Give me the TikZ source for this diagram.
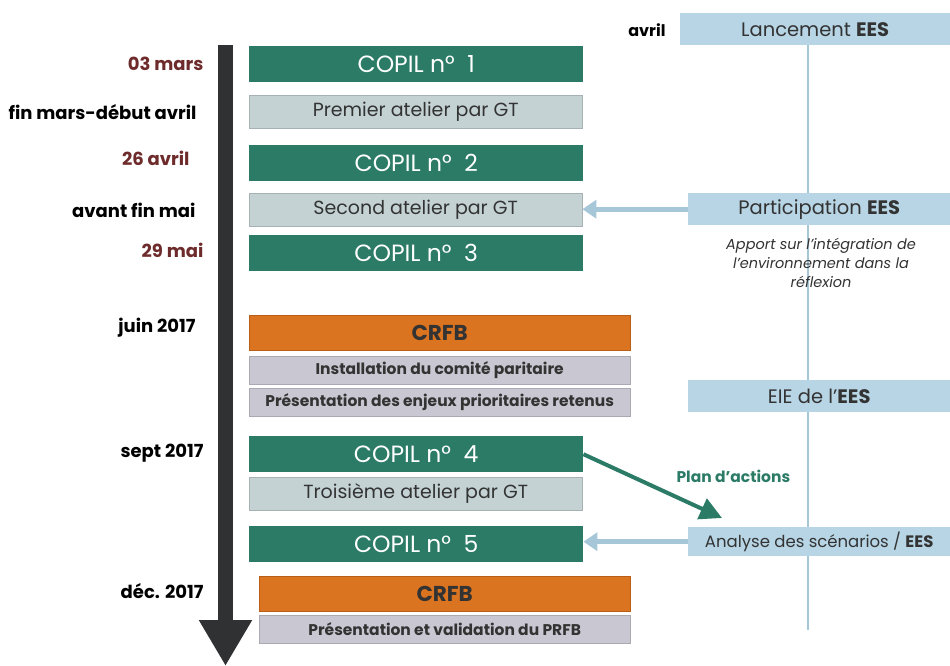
\documentclass[tikz,border=0pt]{standalone}
\usepackage{fontspec}
\setmainfont{Poppins}
\usetikzlibrary{arrows.meta}
\definecolor{copil}{HTML}{2B7B66}
\definecolor{atel}{HTML}{C4D2D4}
\definecolor{crfb}{HTML}{DB7420}
\definecolor{crfbd}{HTML}{B85E16}
\definecolor{lav}{HTML}{C9C7D1}
\definecolor{ees}{HTML}{B7D5E5}
\definecolor{eesarr}{HTML}{A6C7D8}
\definecolor{bar}{HTML}{2F3133}
\definecolor{datered}{HTML}{6E2B2B}
\definecolor{txt}{HTML}{333333}
\tikzset{
  boxbase/.style={inner sep=0pt, anchor=north west},
  copilbox/.style={boxbase, fill=copil, text=white, minimum width=334, minimum height=36, font=\fontsize{23.5}{25}\selectfont},
  atelbox/.style={boxbase, fill=atel, draw=atel!85!black, text=txt, minimum width=333, minimum height=33, font=\fontsize{19}{21}\selectfont},
  crfbbox/.style={boxbase, fill=crfb, draw=crfbd, text=txt, minimum height=35, font=\bfseries\fontsize{21.5}{23}\selectfont},
  lavbox/.style={boxbase, fill=lav, draw=lav!85!black, text=txt, minimum height=28, font=\bfseries\fontsize{15.5}{17}\selectfont},
  eesbox/.style={boxbase, fill=ees, text=txt, minimum width=262, minimum height=32, font=\fontsize{19.5}{21}\selectfont},
  datelbl/.style={anchor=east, font=\bfseries\fontsize{18}{20}\selectfont, text=black},
  datered/.style={datelbl, text=datered},
  eesarrow/.style={draw=eesarr, line width=5, -{Triangle[width=18, length=14]}},
}
\begin{document}
\begin{tikzpicture}[x=1pt, y=-1pt]
\useasboundingbox[fill=white] (0,0) rectangle (950,666);
% timeline
\coordinate (tltop) at (225.5,45);
\coordinate (tlend) at (225.5,666);
\draw[bar, line width=15, -{Triangle[width=50, length=46]}] (tltop) -- (tlend);
% right vertical line
\coordinate (vtop) at (808,45);
\coordinate (vbot) at (808,630);
\draw[eesarr, line width=1.8] (vtop) -- (vbot);
% left boxes
\node[copilbox] (c1) at (249,46) {COPIL n°\ \ 1};
\node[atelbox] (a1) at (249,95) {Premier atelier par GT};
\node[copilbox] (c2) at (249,145) {COPIL n°\ \ 2};
\node[atelbox] (a2) at (249,193) {Second atelier par GT};
\node[copilbox] (c3) at (249,235) {COPIL n°\ \ 3};
\node[crfbbox, minimum width=381] (r1) at (249,315) {CRFB};
\node[lavbox, minimum width=381] (l1) at (249,356) {Installation du comité paritaire};
\node[lavbox, minimum width=381] (l2) at (249,388) {Présentation des enjeux prioritaires retenus};
\node[copilbox] (c4) at (249,436) {COPIL n°\ \ 4};
\node[atelbox] (a3) at (249,477) {Troisième atelier par GT};
\node[copilbox] (c5) at (249,526) {COPIL n°\ \ 5};
\node[crfbbox, minimum width=371] (r2) at (259,576) {CRFB};
\node[lavbox, minimum width=371] (l3) at (259,615) {Présentation et validation du PRFB};
% dates
\node[datered] (d1) at (207,64) {03 mars};
\node[datelbl] (d2) at (200,112) {fin mars-début avril};
\node[datered] (d3) at (193,158) {26 avril};
\node[datelbl] (d4) at (199,210) {avant fin mai};
\node[datered] (d5) at (207,250) {29 mai};
\node[datelbl] (d6) at (199,328) {juin 2017};
\node[datelbl] (d7) at (207,453) {sept 2017};
\node[datelbl] (d8) at (207,591) {déc. 2017};
% right boxes
\node[datelbl, font=\bfseries\fontsize{16}{18}\selectfont] (d9) at (669,30) {avril};
\node[eesbox, minimum width=270] (e1) at (680,13) {Lancement \textbf{EES}};
\node[eesbox] (e2) at (688,193) {Participation \textbf{EES}};
\node[align=center, font=\itshape\fontsize{14.5}{19}\selectfont, text=txt] (e2t) at (821,263) {Apport sur l'intégration de\\l'environnement dans la\\réflexion};
\node[eesbox] (e3) at (688,380) {EIE de l'\textbf{EES}};
\node[eesbox, minimum height=29, font=\fontsize{16.5}{18}\selectfont] (e4) at (688,527) {Analyse des scénarios / \textbf{EES}};
% arrows
\draw[eesarrow] (e2.west) -- (e2.west -| a2.east);
\draw[eesarrow] (e4.west) -- (e4.west -| c5.east);
\coordinate (plantip) at (722,518);
\draw[copil, line width=4, -{Triangle[width=22, length=22]}] (c4.east) -- (plantip);
\node[anchor=west, text=copil, font=\bfseries\fontsize{15.5}{17}\selectfont] (plan) at (673,476) {Plan d'actions};
\end{tikzpicture}
\end{document}
